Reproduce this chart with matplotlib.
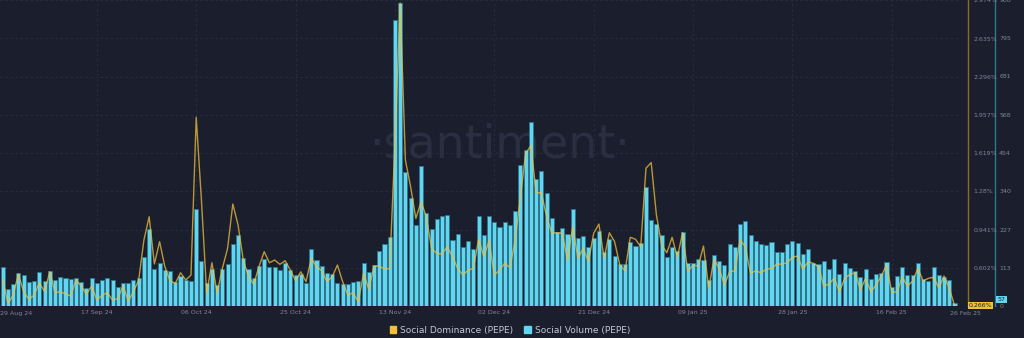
import matplotlib as mpl
import matplotlib.pyplot as plt
import matplotlib.patches as mpatches
import pandas as pd

mpl.use('Agg')

# daily values, 30 Aug 24 .. 28 Feb 25
social_volume = [
    115, 51, 65, 97, 92, 71, 75, 102, 73, 105, 77, 85, 83, 79, 84, 70, 54, 84, 69, 77,
    84, 76, 55, 68, 69, 78, 83, 144, 228, 111, 128, 107, 103, 72, 89, 77, 74,
    288, 134, 69, 109, 62, 111, 124, 183, 211, 143, 109, 82, 119, 140, 117, 115, 108, 127,
    108, 92, 95, 67, 169, 137, 119, 97, 95, 68, 66, 65, 72, 75, 127, 102, 122, 164, 183, 204,
    849, 898, 397, 320, 241, 416, 277, 228, 259, 268, 270, 196, 215, 176, 193, 168, 267,
    210, 267, 248, 235, 250, 241, 283, 419, 464, 545, 378, 401, 336, 260, 220, 231, 214,
    289, 203, 209,
    174, 201, 224, 161, 198, 148, 125, 124, 189, 179, 186, 352, 255, 243, 211, 146, 176,
    164, 220, 127, 127, 140, 137, 77, 151, 134, 121, 184, 176, 242, 253, 210, 194, 184,
    182, 191, 161,
    159, 184, 194, 188, 153, 170, 127, 125, 134, 111, 139, 94, 129, 112, 104, 86, 110, 81,
    95, 99, 130, 57, 89, 117, 93, 93, 127, 81, 74, 116, 93, 87, 78, 10,
]
social_dominance = [
    0.494, 0.287, 0.36, 0.547, 0.39, 0.322, 0.36, 0.47, 0.39, 0.567, 0.381, 0.39, 0.37,
    0.352, 0.494, 0.44, 0.367, 0.44, 0.316, 0.36, 0.381, 0.316, 0.328, 0.44, 0.307, 0.39,
    0.494, 0.849, 1.055, 0.636, 0.834, 0.612, 0.485, 0.464, 0.558, 0.494, 0.538,
    1.937, 1.20, 0.376, 0.647, 0.381, 0.597, 0.775, 1.168, 0.982, 0.671, 0.523, 0.458,
    0.612, 0.745, 0.647, 0.671, 0.633, 0.665, 0.582, 0.488, 0.567, 0.479, 0.686, 0.612,
    0.576, 0.479, 0.523, 0.627, 0.479, 0.36, 0.381, 0.301, 0.553, 0.411, 0.618, 0.618,
    0.589, 0.597,
    1.7, 2.95, 1.558, 1.32, 1.04, 1.188, 1.055, 0.775, 0.73, 0.724, 0.789, 0.70, 0.597,
    0.538, 0.582, 0.597, 0.855, 0.70, 0.842, 0.538, 0.582, 0.642, 0.603, 0.849, 1.233,
    1.618, 1.685, 1.268, 1.268, 1.055, 0.908, 0.913, 0.908, 0.671, 0.966, 0.686, 0.775,
    0.656, 0.908, 0.99, 0.686, 0.913, 0.834, 0.627, 0.576, 0.873, 0.855, 0.789, 1.485,
    1.535, 1.07, 0.804, 0.736, 0.873, 0.695, 0.913, 0.567, 0.627, 0.618, 0.795, 0.42,
    0.677, 0.597, 0.449, 0.567, 0.576, 0.849, 0.789, 0.553, 0.576, 0.558, 0.589, 0.597,
    0.633,
    0.636, 0.647, 0.695, 0.707, 0.589, 0.656, 0.642, 0.612, 0.44, 0.458, 0.511, 0.39,
    0.509, 0.544, 0.558, 0.405, 0.509, 0.39, 0.449, 0.529, 0.627, 0.39, 0.385, 0.523,
    0.44, 0.485, 0.597, 0.485, 0.509, 0.518, 0.425, 0.529, 0.42, 0.27,
]
start_date = '2024-08-30'
tick_dates = ['2024-09-17', '2024-10-06', '2024-10-25', '2024-11-13', '2024-12-02',
              '2024-12-21', '2025-01-09', '2025-01-28', '2025-02-16']
tick_labels = ['17 Sep 24', '06 Oct 24', '25 Oct 24', '13 Nov 24', '02 Dec 24',
               '21 Dec 24', '09 Jan 25', '28 Jan 25', '16 Feb 25']
vol_ticks = [0, 113, 227, 340, 454, 568, 681, 795, 908]
dom_ticks = [0.602, 0.941, 1.28, 1.619, 1.957, 2.296, 2.635, 2.974]
dom_labels = ['0.602%', '0.941%', '1.28%', '1.619%', '1.957%', '2.296%', '2.635%', '2.974%']

BG = '#1b1e2d'
CYAN = '#62d6f0'
GOLD = '#f0c03a'
GREY = '#80869a'

dates = pd.date_range(start_date, periods=len(social_volume))
x = list(range(len(dates)))
tick_pos = [dates.get_loc(pd.Timestamp(d)) for d in tick_dates]

fig = plt.figure(figsize=(10.24, 3.38), dpi=100, facecolor=BG)
W, H = 1024, 338
ax = fig.add_axes([0, 32 / H, 960 / W, 306 / H])
ax2 = ax.twinx()
ax.set_facecolor(BG)

# volume bars
ax.bar(x, social_volume, width=0.78, color=CYAN, edgecolor='#2f7389', linewidth=0.6, zorder=2)
ax.set_xlim(-0.52, 183.05)
ax.set_ylim(0, 908)

# dominance line
ax2.plot(x, social_dominance, color=GOLD, lw=1.0, alpha=0.75, zorder=3)
ax2.set_ylim(0.2635, 2.977)

# grid
for v in vol_ticks[1:]:
    ax.axhline(v, color='#2a2e40', lw=0.6, ls=(0, (3, 3)), zorder=0)
for p in tick_pos:
    ax.axvline(p, color='#2a2e40', lw=0.6, ls=(0, (3, 3)), zorder=0)

# watermark
ax.text(500 / 960, 1 - 145 / 306, '\u00b7santiment\u00b7', transform=ax.transAxes,
        fontsize=33, color='#2a2e41', ha='center', va='center', zorder=1)

# x axis
ax.set_xticks(tick_pos)
ax.set_xticklabels(tick_labels)
ax.tick_params(axis='x', length=0, pad=3, labelsize=4.5, labelcolor=GREY)
ax.text(0, -5 / 306, '29 Aug 24', transform=ax.transAxes, fontsize=4.5, color=GREY,
        ha='left', va='top')
ax.text(965 / 960, -5 / 306, '26 Feb 25', transform=ax.transAxes, fontsize=4.5, color=GREY,
        ha='center', va='top', clip_on=False)

# right axes: dominance spine then volume spine
for s in ['top', 'left', 'bottom']:
    ax.spines[s].set_visible(False)
    ax2.spines[s].set_visible(False)
ax2.spines['right'].set_position(('axes', 968 / 960))
ax2.spines['right'].set_color('#8c6b28')
ax2.spines['right'].set_linewidth(1.0)
ax2.set_yticks(dom_ticks)
ax2.set_yticklabels(dom_labels)
ax2.tick_params(axis='y', length=0, pad=4, labelsize=4.5, labelcolor=GREY)

ax.yaxis.tick_right()
ax.spines['right'].set_position(('axes', 995 / 960))
ax.spines['right'].set_color('#2d7a90')
ax.spines['right'].set_linewidth(1.0)
ax.set_yticks(vol_ticks)
ax.tick_params(axis='y', length=0, pad=3, labelsize=4.5, labelcolor=GREY)

# last value tags
fig.text(980.5 / W, 1 - 305.5 / H, '0.266%', fontsize=4.5, color='#1b1e2d', ha='center',
         va='center', bbox=dict(boxstyle='square,pad=0.15', fc=GOLD, ec='none'))
fig.text(1001.5 / W, 1 - 299.5 / H, '57', fontsize=4.5, color='#1b1e2d', ha='center',
         va='center', bbox=dict(boxstyle='square,pad=0.2', fc=CYAN, ec='none'))

# legend
handles = [mpatches.Patch(color=GOLD, label='Social Dominance (PEPE)'),
           mpatches.Patch(color=CYAN, label='Social Volume (PEPE)')]
fig.legend(handles=handles, loc='center', bbox_to_anchor=(510 / W, 1 - 330 / H), ncol=2,
           frameon=False, fontsize=6.5, labelcolor='#c5c9d3', handlelength=0.7,
           handleheight=0.7, handletextpad=0.5, columnspacing=1.2)

plt.savefig('out.png', dpi=100, facecolor=BG)
